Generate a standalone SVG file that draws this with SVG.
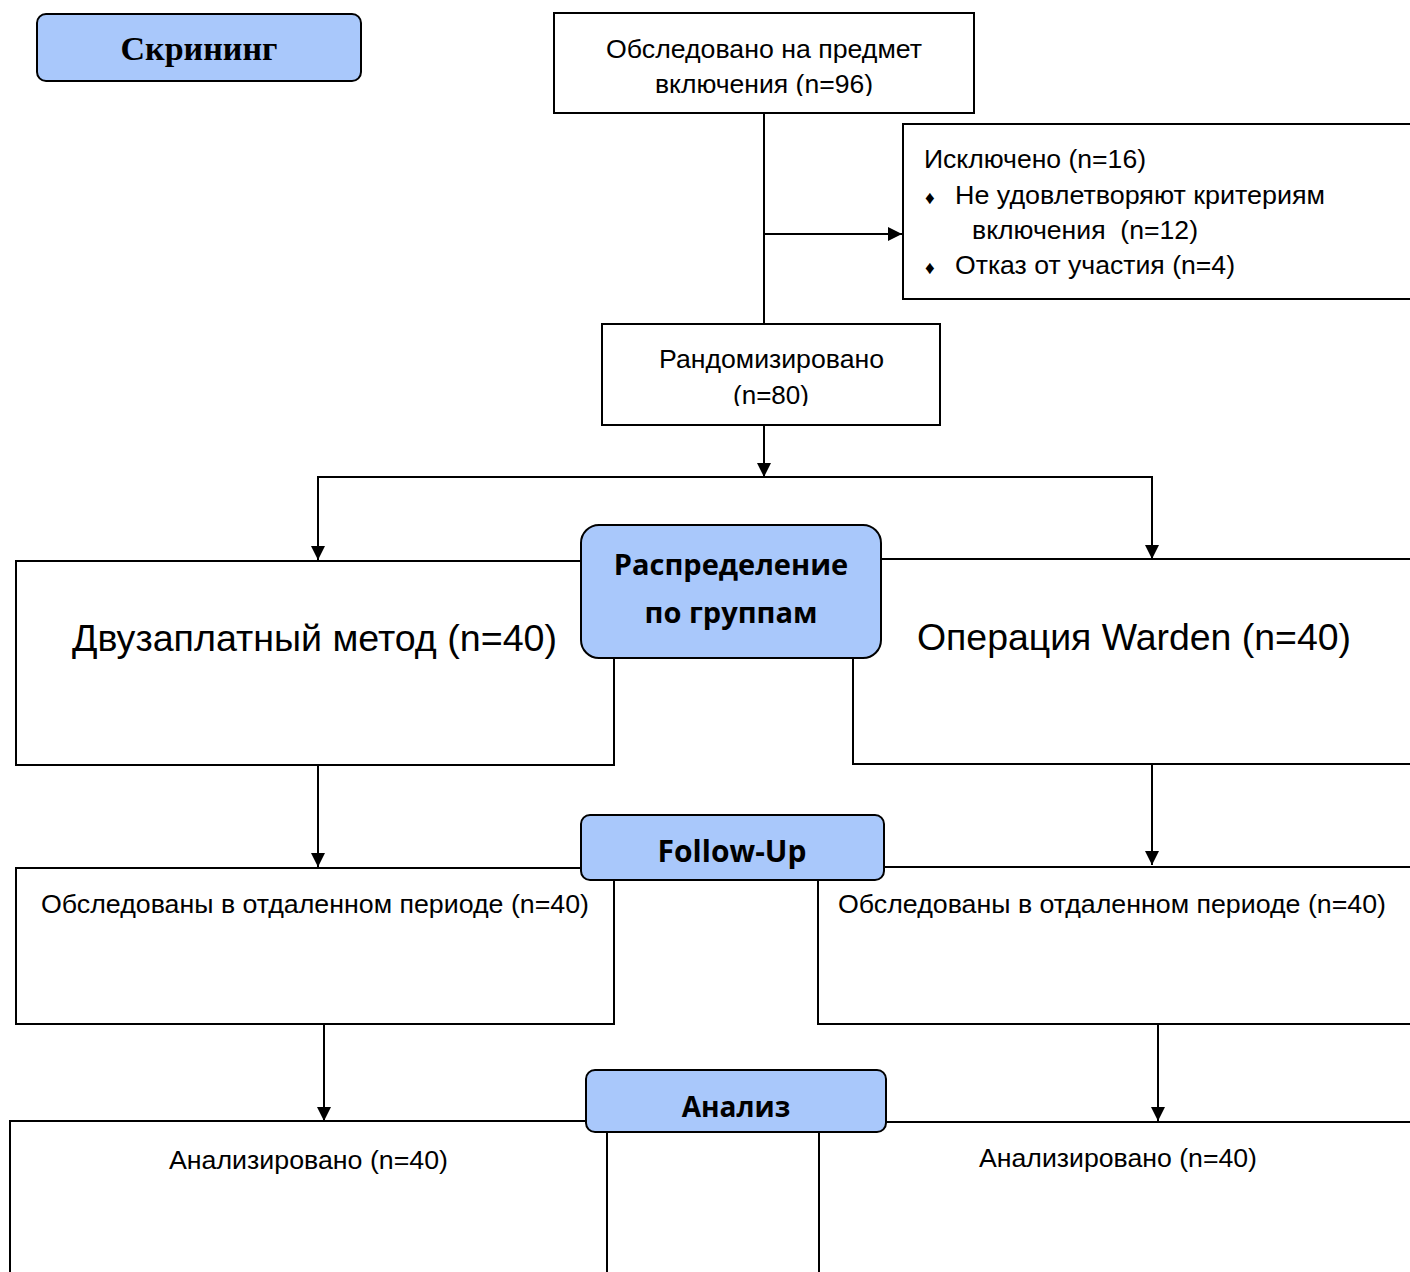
<svg xmlns="http://www.w3.org/2000/svg" width="1410" height="1272" viewBox="0 0 1410 1272">
<style>
.box{fill:#fff;stroke:#000;stroke-width:2}
.lbl{fill:#a9c8fb;stroke:#000;stroke-width:2}
.t{font-family:"Liberation Sans",Arial,sans-serif;fill:#000}
.h{font-family:"Open Sans","Noto Sans",sans-serif;font-weight:bold;fill:#000;text-anchor:middle}
.ln{stroke:#000;stroke-width:2;fill:none}
</style>
<defs>
<marker id="ah" markerUnits="userSpaceOnUse" markerWidth="16" markerHeight="16" refX="14" refY="7" orient="auto">
<path d="M0,0 L14,7 L0,14 Z" fill="#000"/>
</marker>
<clipPath id="c1"><rect x="554" y="13" width="420" height="83"/></clipPath>
<clipPath id="c2"><rect x="602" y="324" width="338" height="82"/></clipPath>
</defs>
<rect width="1410" height="1272" fill="#fff"/>
<g id="connectors">
<line class="ln" x1="764" y1="113" x2="764" y2="324"/>
<line class="ln" x1="764" y1="234" x2="902" y2="234" marker-end="url(#ah)"/>
<line class="ln" x1="764" y1="425" x2="764" y2="477" marker-end="url(#ah)"/>
<polyline class="ln" points="318,560 318,477 1152,477 1152,559"/>
<line class="ln" x1="318" y1="540" x2="318" y2="560" marker-end="url(#ah)"/>
<line class="ln" x1="1152" y1="540" x2="1152" y2="559" marker-end="url(#ah)"/>
<line class="ln" x1="318" y1="765" x2="318" y2="867" marker-end="url(#ah)"/>
<line class="ln" x1="1152" y1="764" x2="1152" y2="865" marker-end="url(#ah)"/>
<line class="ln" x1="324" y1="1024" x2="324" y2="1121" marker-end="url(#ah)"/>
<line class="ln" x1="1158" y1="1024" x2="1158" y2="1121" marker-end="url(#ah)"/>
</g>
<g id="screening">
<rect class="lbl" x="37" y="14" width="324" height="67" rx="9"/>
<text x="199" y="60" font-family="'Liberation Serif','Times New Roman',serif" font-weight="bold" font-size="34" text-anchor="middle">Скрининг</text>
</g>
<g id="examined">
<rect class="box" x="554" y="13" width="420" height="100"/>
<g clip-path="url(#c1)">
<text class="t" x="606" y="58" font-size="26" textLength="316" lengthAdjust="spacingAndGlyphs">Обследовано на предмет</text>
<text class="t" x="655" y="93" font-size="26" textLength="218" lengthAdjust="spacingAndGlyphs">включения (n=96)</text>
</g>
</g>
<g id="excluded">
<rect class="box" x="903" y="124" width="520" height="175"/>
<text class="t" x="924" y="168" font-size="26" textLength="222" lengthAdjust="spacingAndGlyphs">Исключено (n=16)</text>
<text class="t" x="925" y="204" font-size="19">♦</text>
<text class="t" x="955" y="204" font-size="26" textLength="370" lengthAdjust="spacingAndGlyphs">Не удовлетворяют критериям</text>
<text class="t" x="972" y="239" font-size="26" xml:space="preserve" textLength="226" lengthAdjust="spacingAndGlyphs">включения  (n=12)</text>
<text class="t" x="925" y="274" font-size="19">♦</text>
<text class="t" x="955" y="274" font-size="26" textLength="280" lengthAdjust="spacingAndGlyphs">Отказ от участия (n=4)</text>
</g>
<g id="randomized">
<rect class="box" x="602" y="324" width="338" height="101"/>
<g clip-path="url(#c2)">
<text class="t" x="659" y="368" font-size="26" textLength="225" lengthAdjust="spacingAndGlyphs">Рандомизировано</text>
<text class="t" x="733" y="404" font-size="26" textLength="76" lengthAdjust="spacingAndGlyphs">(n=80)</text>
</g>
</g>
<g id="group-left">
<rect class="box" x="16" y="561" width="598" height="204"/>
<text class="t" x="72" y="651" font-size="37" textLength="485" lengthAdjust="spacingAndGlyphs">Двузаплатный метод (n=40)</text>
</g>
<g id="group-right">
<rect class="box" x="853" y="559" width="570" height="205"/>
<text class="t" x="917" y="650" font-size="37" textLength="434" lengthAdjust="spacingAndGlyphs">Операция Warden (n=40)</text>
</g>
<g id="allocation">
<rect class="lbl" x="581" y="525" width="300" height="133" rx="18"/>
<text class="h" x="731" y="575" font-size="29">Распределение</text>
<text class="h" x="731" y="623" font-size="29">по группам</text>
</g>
<g id="follow-left">
<rect class="box" x="16" y="868" width="598" height="156"/>
<text class="t" x="41" y="913" font-size="26" textLength="548" lengthAdjust="spacingAndGlyphs">Обследованы в отдаленном периоде (n=40)</text>
</g>
<g id="follow-right">
<rect class="box" x="818" y="867" width="605" height="157"/>
<text class="t" x="838" y="913" font-size="26" textLength="548" lengthAdjust="spacingAndGlyphs">Обследованы в отдаленном периоде (n=40)</text>
</g>
<g id="followup">
<rect class="lbl" x="581" y="815" width="303" height="65" rx="9"/>
<text class="h" x="732" y="862" font-size="30">Follow-Up</text>
</g>
<g id="analysis-left">
<rect class="box" x="10" y="1121" width="597" height="170"/>
<text class="t" x="169" y="1169" font-size="26" textLength="279" lengthAdjust="spacingAndGlyphs">Анализировано (n=40)</text>
</g>
<g id="analysis-right">
<rect class="box" x="819" y="1122" width="604" height="170"/>
<text class="t" x="979" y="1167" font-size="26" textLength="278" lengthAdjust="spacingAndGlyphs">Анализировано (n=40)</text>
</g>
<g id="analysis">
<rect class="lbl" x="586" y="1070" width="300" height="62" rx="9"/>
<text class="h" x="736" y="1117" font-size="28">Анализ</text>
</g>
</svg>
